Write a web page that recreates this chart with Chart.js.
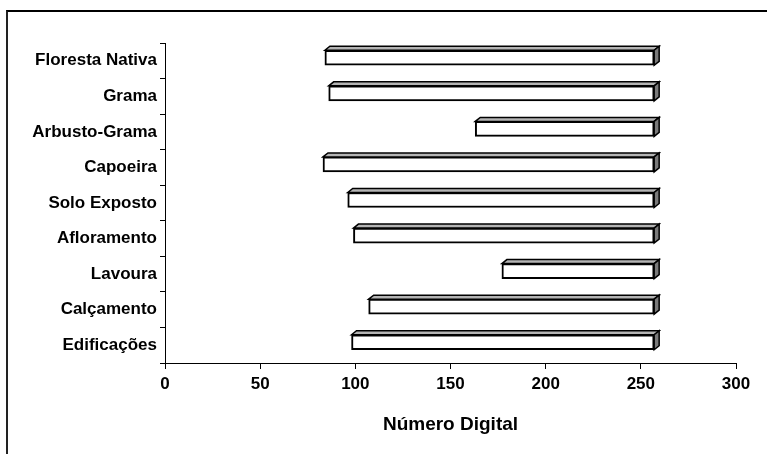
<!DOCTYPE html>
<html>
<head>
<meta charset="utf-8">
<script src="https://cdn.jsdelivr.net/npm/chart.js@4/dist/chart.umd.min.js"></script>
<style>
  html, body { margin: 0; padding: 0; background: #fff; }
  #wrap { position: relative; width: 767px; height: 454px; }
  #frame {
    position: absolute; left: 6px; top: 10px; right: 0; bottom: 0;
    border-top: 2px solid #000; border-left: 2px solid #222;
    pointer-events: none;
  }
  canvas { position: absolute; left: 0; top: 0; }
</style>
</head>
<body>
<div id="wrap">
  <canvas id="c" width="767" height="454"></canvas>
  <div id="frame"></div>
</div>
<script>
// Land-cover classes and their digital-number ranges
const classes = ['Floresta Nativa', 'Grama', 'Arbusto-Grama', 'Capoeira', 'Solo Exposto',
                 'Afloramento', 'Lavoura', 'Calçamento', 'Edificações'];
const rangeMin = [84, 86, 163, 83, 96, 99, 177, 107, 98];
const rangeMax = [257, 257, 257, 257, 257, 257, 257, 257, 257];
const xTicks = [0, 50, 100, 150, 200, 250, 300];
const xTitle = 'Número Digital';

const FONT = "'Liberation Sans', Arial, sans-serif";
const DEPTH_X = 5, DEPTH_Y = 4, SHIFT_Y = -3;

// Pseudo-3D bars: top and side faces drawn from each bar element's geometry
const bar3d = {
  id: 'bar3d',
  beforeDatasetsDraw(chart) {
    chart.ctx.save();
    chart.ctx.translate(0, SHIFT_Y);
  },
  afterDatasetsDraw(chart) {
    const ctx = chart.ctx;
    const meta = chart.getDatasetMeta(0);
    ctx.lineWidth = 1.5;
    ctx.strokeStyle = '#000';
    ctx.lineJoin = 'miter';
    meta.data.forEach(el => {
      const p = el.getProps(['x', 'y', 'base', 'height'], true);
      const left = Math.min(p.x, p.base), right = Math.max(p.x, p.base);
      const top = p.y - p.height / 2, bottom = p.y + p.height / 2;
      // top face
      ctx.beginPath();
      ctx.moveTo(left, top);
      ctx.lineTo(left + DEPTH_X, top - DEPTH_Y);
      ctx.lineTo(right + DEPTH_X, top - DEPTH_Y);
      ctx.lineTo(right, top);
      ctx.closePath();
      ctx.fillStyle = '#b4b4b4';
      ctx.fill();
      ctx.stroke();
      // side face
      ctx.beginPath();
      ctx.moveTo(right, top);
      ctx.lineTo(right + DEPTH_X, top - DEPTH_Y);
      ctx.lineTo(right + DEPTH_X, bottom - DEPTH_Y);
      ctx.lineTo(right, bottom);
      ctx.closePath();
      ctx.fillStyle = '#7a7a7a';
      ctx.fill();
      ctx.stroke();
    });
    ctx.restore();
  }
};

new Chart(document.getElementById('c'), {
  type: 'bar',
  data: {
    labels: classes,
    datasets: [{
      data: classes.map((_, i) => [rangeMin[i], rangeMax[i]]),
      backgroundColor: '#ffffff',
      borderColor: '#000000',
      borderWidth: 2,
      borderSkipped: false,
      barThickness: 15
    }]
  },
  options: {
    indexAxis: 'y',
    responsive: false,
    animation: false,
    devicePixelRatio: 1,
    layout: { padding: { left: 0, top: 43, right: 31, bottom: 0 } },
    plugins: { legend: { display: false }, tooltip: { enabled: false } },
    scales: {
      x: {
        type: 'linear',
        min: 0, max: 300,
        afterBuildTicks(scale) { scale.ticks = xTicks.map(v => ({ value: v })); },
        afterFit(scale) { scale.height = 91; },
        border: { display: true, color: '#000', width: 1 },
        grid: { display: true, drawOnChartArea: false, drawTicks: true, tickLength: 6, color: '#000' },
        ticks: { color: '#000', padding: 5, font: { family: FONT, size: 17, weight: 'bold' } },
        title: {
          display: true, text: xTitle, color: '#000',
          font: { family: FONT, size: 19, weight: 'bold' },
          padding: { top: 0, bottom: 18 }
        }
      },
      y: {
        type: 'category',
        afterFit(scale) { scale.width = 165; },
        border: { display: true, color: '#000', width: 1 },
        grid: { display: true, offset: true, drawOnChartArea: false, drawTicks: true, tickLength: 5, color: '#000' },
        ticks: { color: '#000', padding: 3, font: { family: FONT, size: 17, weight: 'bold' } }
      }
    }
  },
  plugins: [bar3d]
});
</script>
</body>
</html>
